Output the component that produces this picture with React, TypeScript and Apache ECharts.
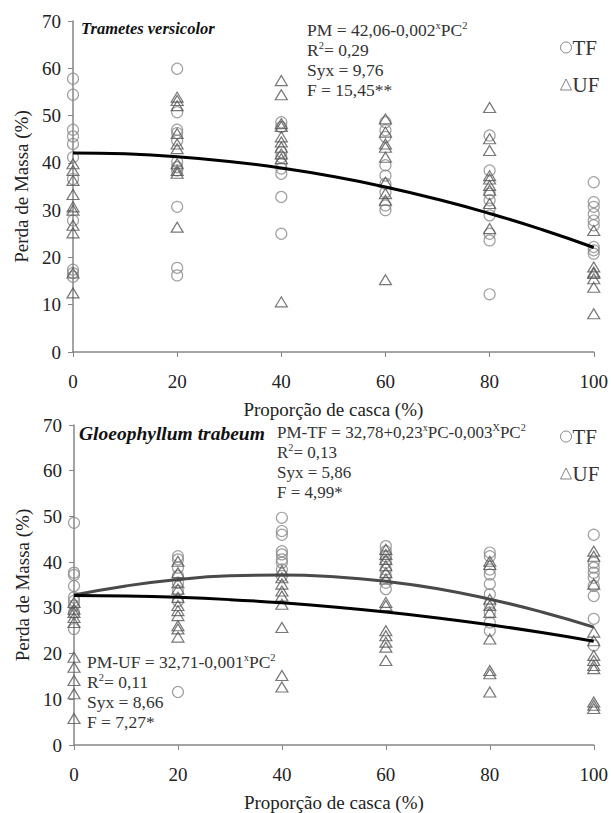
import React, { useEffect, useRef } from "react";
import * as echarts from "echarts";

// Proporção de casca levels (x)
const pcLevels = [0, 20, 40, 60, 80, 100];

// Trametes versicolor — TF (circles), values per PC level
const tvTF = [
  [57.8, 54.4, 47.0, 45.6, 44.0, 41.2, 36.6, 27.8, 17.4, 16.7, 15.9],
  [59.9, 50.7, 47.0, 46.3, 44.7, 40.2, 39.1, 38.4, 30.7, 17.8, 16.2],
  [48.6, 47.6, 42.3, 41.2, 39.8, 38.8, 37.7, 32.8, 25.0],
  [48.6, 46.9, 45.5, 39.5, 37.3, 35.6, 33.8, 31.0, 30.0],
  [45.8, 38.4, 33.5, 32.1, 30.3, 28.9, 25.0, 23.6, 12.2],
  [35.9, 31.7, 30.7, 29.2, 27.8, 26.8, 22.2, 21.5, 20.8],
];
// Trametes versicolor — UF (triangles)
const tvUF = [
  [39.8, 38.4, 36.3, 33.3, 30.7, 30.0, 26.8, 25.2, 16.7, 12.5],
  [53.9, 53.2, 52.1, 46.2, 44.0, 43.0, 39.8, 38.4, 37.8, 26.4],
  [57.4, 54.4, 48.3, 47.7, 45.5, 44.4, 43.3, 41.9, 40.9, 10.6],
  [49.3, 46.5, 44.0, 43.3, 41.2, 35.9, 33.5, 32.1, 15.3],
  [51.7, 45.1, 42.6, 37.3, 36.6, 35.2, 34.2, 31.4, 26.1],
  [25.7, 18.0, 16.9, 16.6, 15.5, 13.7, 8.1],
];
// Gloeophyllum trabeum — TF
const gtTF = [
  [48.6, 37.7, 37.2, 34.8, 32.3, 31.5, 30.5, 29.0, 25.4],
  [41.3, 40.6, 38.8, 37.0, 35.5, 33.7, 31.5, 11.6],
  [49.7, 46.8, 46.0, 42.4, 41.7, 40.6, 39.9, 38.4, 37.0],
  [43.5, 42.4, 41.3, 39.9, 38.4, 37.0, 35.5, 34.1],
  [42.1, 41.3, 38.4, 37.3, 35.2, 33.0, 30.8, 29.0, 26.8, 25.0],
  [46.0, 39.9, 38.8, 37.7, 36.6, 34.8, 32.6, 27.6, 21.8],
];
// Gloeophyllum trabeum — UF
const gtUF = [
  [31.2, 29.7, 29.0, 27.9, 26.8, 19.2, 17.0, 14.1, 11.2, 5.8],
  [40.2, 37.7, 35.5, 34.1, 32.3, 30.5, 29.4, 28.3, 26.1, 25.4, 23.6],
  [38.1, 36.6, 35.2, 33.7, 32.6, 30.8, 25.7, 15.2, 12.7],
  [42.8, 41.7, 40.6, 39.2, 37.7, 36.3, 31.2, 30.5, 25.0, 23.9, 22.5, 21.4, 18.5],
  [40.2, 39.5, 31.9, 30.5, 29.0, 23.2, 16.3, 15.6, 11.6],
  [42.4, 41.3, 35.2, 24.7, 22.8, 19.6, 18.5, 17.4, 16.7, 9.4, 8.7, 8.0],
];

// Fitted curves
const curveX = [0, 10, 20, 30, 40, 50, 60, 70, 80, 90, 100];
const tvFit = [42.1, 41.9, 41.3, 40.3, 38.9, 37.1, 34.9, 32.3, 29.3, 25.9, 22.1];
const gtFitTF = [32.8, 34.8, 36.2, 37.0, 37.2, 36.8, 35.8, 34.2, 31.9, 29.1, 25.8];
const gtFitUF = [32.7, 32.6, 32.3, 31.8, 31.1, 30.2, 29.1, 27.8, 26.3, 24.6, 22.7];

const FONT = "'Liberation Serif', 'Times New Roman', serif";

function toPoints(cols: number[][]) {
  const out: number[][] = [];
  cols.forEach((vals, i) => vals.forEach((v) => out.push([pcLevels[i], v])));
  return out;
}
function toLine(ys: number[]) {
  return curveX.map((x, i) => [x, ys[i]]);
}

export default function App() {
  const ref = useRef<HTMLDivElement>(null);
  useEffect(() => {
    if (!ref.current) return;
    const chart = echarts.init(ref.current, undefined, { renderer: "svg" });
    const axisLine = { show: true, lineStyle: { color: "#868686", width: 1.5 } };
    const mkX = (gi: number) => ({
      type: "value",
      gridIndex: gi,
      min: 0,
      max: 100,
      interval: 20,
      name: "Proporção de casca (%)",
      nameLocation: "middle",
      nameGap: 48,
      nameTextStyle: { fontFamily: FONT, fontSize: 19, color: "#222" },
      axisLine,
      axisTick: { show: true, length: 5, inside: false, lineStyle: { color: "#868686" } },
      axisLabel: { fontFamily: FONT, fontSize: 19, color: "#222", margin: 20 },
      splitLine: { show: false },
    });
    const mkY = (gi: number) => ({
      type: "value",
      gridIndex: gi,
      min: 0,
      max: 70,
      interval: 10,
      name: "Perda de Massa (%)",
      nameLocation: "middle",
      nameGap: 42,
      nameRotate: 90,
      nameTextStyle: { fontFamily: FONT, fontSize: 19, color: "#222" },
      axisLine,
      axisTick: { show: true, length: 5, lineStyle: { color: "#868686" } },
      axisLabel: { fontFamily: FONT, fontSize: 19, color: "#222", margin: 12 },
      splitLine: { show: false },
    });
    const circ = (xi: number, data: number[][]) => ({
      type: "scatter",
      name: "TF",
      xAxisIndex: xi,
      yAxisIndex: xi,
      symbol: "circle",
      symbolSize: 11,
      data,
      itemStyle: { color: "rgba(0,0,0,0)", borderColor: "#8a8a8a", borderWidth: 1.2 },
      z: 3,
    });
    const tri = (xi: number, data: number[][]) => ({
      type: "scatter",
      name: "UF",
      xAxisIndex: xi,
      yAxisIndex: xi,
      symbol: "triangle",
      symbolSize: [12, 10],
      data,
      itemStyle: { color: "rgba(0,0,0,0)", borderColor: "#555", borderWidth: 1.2 },
      z: 3,
    });
    const line = (xi: number, ys: number[], color: string) => ({
      type: "line",
      xAxisIndex: xi,
      yAxisIndex: xi,
      data: toLine(ys),
      smooth: true,
      symbol: "none",
      lineStyle: { color, width: 3 },
      z: 4,
      silent: true,
    });
    const mkRich = (fs: number) => ({
      n: { fontFamily: FONT, fontSize: fs, color: "#333", lineHeight: 20 },
      s: { fontFamily: FONT, fontSize: fs * 0.6, color: "#333", verticalAlign: "top", lineHeight: 20 },
    });
    const eq = (x: number, y: number, text: string, fs: number) => ({
      type: "text",
      left: x,
      top: y,
      style: { text, rich: mkRich(fs), fontFamily: FONT, fontSize: fs, fill: "#333" },
    });
    const legendStyle = {
      orient: "vertical",
      itemWidth: 11,
      itemHeight: 11,
      itemGap: 16,
      textStyle: { fontFamily: FONT, fontSize: 21, color: "#333", padding: [0, 0, 0, -4] },
      data: [
        { name: "TF", icon: "circle", itemStyle: { color: "rgba(0,0,0,0)", borderColor: "#666", borderWidth: 1 } },
        { name: "UF", icon: "triangle", itemStyle: { color: "rgba(0,0,0,0)", borderColor: "#666", borderWidth: 1 } },
      ],
      selectedMode: false,
    };
    chart.setOption({
      animation: false,
      backgroundColor: "#fff",
      grid: [
        { left: 73, top: 21, width: 522, height: 331 },
        { left: 74, top: 425, width: 521, height: 322 },
      ],
      xAxis: [mkX(0), mkX(1)],
      yAxis: [mkY(0), mkY(1)],
      legend: [
        { ...legendStyle, left: 555, top: 32 },
        { ...legendStyle, left: 555, top: 421 },
      ],
      graphic: [
        {
          type: "text",
          left: 81,
          top: 20,
          style: { text: "Trametes versicolor", fontFamily: FONT, fontSize: 16.5, fontStyle: "italic", fontWeight: "bold", fill: "#111" },
        },
        eq(307, 20, "{n|PM = 42,06-0,002}{s|x}{n|PC}{s|2}\n{n|R}{s|2}{n|= 0,29}\n{n|Syx = 9,76}\n{n|F = 15,45**}", 17.5),
        {
          type: "text",
          left: 79,
          top: 423,
          style: { text: "Gloeophyllum trabeum", fontFamily: FONT, fontSize: 19.5, fontStyle: "italic", fontWeight: "bold", fill: "#111" },
        },
        eq(277, 422, "{n|PM-TF = 32,78+0,23}{s|x}{n|PC-0,003}{s|X}{n|PC}{s|2}\n{n|R}{s|2}{n|= 0,13}\n{n|Syx = 5,86}\n{n|F = 4,99*}", 17),
        eq(87, 652, "{n|PM-UF = 32,71-0,001}{s|x}{n|PC}{s|2}\n{n|R}{s|2}{n|= 0,11}\n{n|Syx = 8,66}\n{n|F = 7,27*}", 17.5),
      ],
      series: [
        circ(0, toPoints(tvTF)),
        tri(0, toPoints(tvUF)),
        line(0, tvFit, "#000"),
        circ(1, toPoints(gtTF)),
        tri(1, toPoints(gtUF)),
        line(1, gtFitTF, "#4a4a4a"),
        line(1, gtFitUF, "#000"),
      ],
    });
    return () => chart.dispose();
  }, []);
  return (
    <div
      ref={ref}
      style={{ position: "fixed", left: 0, top: 0, width: 611, height: 813 }}
    />
  );
}
